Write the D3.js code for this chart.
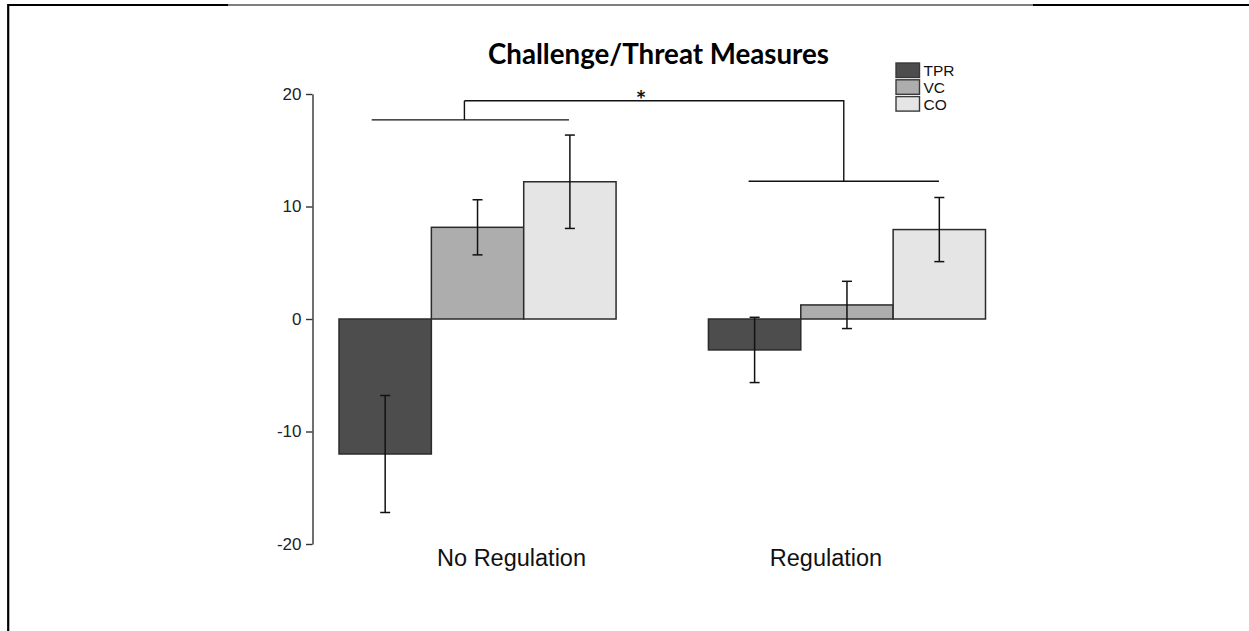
<!DOCTYPE html>
<html>
<head>
<meta charset="utf-8">
<script src="https://cdn.jsdelivr.net/npm/d3@7"></script>
<style>
  html, body { margin: 0; padding: 0; background: #fff; }
  svg { display: block; }
</style>
</head>
<body>
<svg id="chart" width="1249" height="631"></svg>
<script>
// Conditions on the x axis
const conditions = ["No Regulation", "Regulation"];
// Cardiovascular measures shown within each condition
const measures = ["TPR", "VC", "CO"];
// Mean change scores per measure, one value per condition
const tprMeans = [-12.0, -2.75];
const vcMeans  = [8.15, 1.25];
const coMeans  = [12.2, 7.95];
// Standard errors (error bar half-lengths)
const tprErrors = [5.2, 2.9];
const vcErrors  = [2.45, 2.1];
const coErrors  = [4.15, 2.85];
// Y axis ticks
const yTicks = [-20, -10, 0, 10, 20];
// Significance annotation: bracket heights over each condition and the joining bar
const bracketLevels = [17.7, 12.25];
const bracketTop = 19.4;
const sigLabel = "*";
const title = "Challenge/Threat Measures";

const fills = { TPR: "#4d4d4d", VC: "#adadad", CO: "#e5e5e5" };
const seriesMeans = { TPR: tprMeans, VC: vcMeans, CO: coMeans };
const seriesErrors = { TPR: tprErrors, VC: vcErrors, CO: coErrors };

const rows = [];
conditions.forEach((c, i) => {
  measures.forEach(m => {
    rows.push({ condition: c, measure: m, mean: seriesMeans[m][i], se: seriesErrors[m][i] });
  });
});

const svg = d3.select("#chart");

// Page frame: heavy rule top-left and top-right, thin rule between, heavy left edge
const frame = svg.append("g").attr("stroke", "#000");
frame.append("line").attr("x1", 8).attr("x2", 228).attr("y1", 5).attr("y2", 5).attr("stroke-width", 2.2);
frame.append("line").attr("x1", 228).attr("x2", 1033).attr("y1", 5).attr("y2", 5).attr("stroke-width", 1.2);
frame.append("line").attr("x1", 1033).attr("x2", 1249).attr("y1", 5).attr("y2", 5).attr("stroke-width", 2.2);
frame.append("line").attr("x1", 8.2).attr("x2", 8.2).attr("y1", 4).attr("y2", 631).attr("stroke-width", 2.2);

// Scales
const y = d3.scaleLinear().domain([-20, 20]).range([544, 94]);
const x0 = d3.scaleBand().domain(conditions).range([339, 985.5]).paddingInner(0.25).paddingOuter(0);
const x1 = d3.scaleBand().domain(measures).range([0, x0.bandwidth()]).padding(0);

// Y axis
const yAxis = d3.axisLeft(y).tickValues(yTicks).tickSize(6.5).tickSizeOuter(0).tickPadding(4.5)
  .tickFormat(d => String(d));
const gy = svg.append("g").attr("transform", "translate(312.5,0)").call(yAxis);
gy.attr("font-family", "Liberation Sans, Arial, sans-serif");
gy.select(".domain").attr("stroke", "#333").attr("stroke-width", 1.4);
gy.selectAll(".tick line").attr("stroke", "#333").attr("stroke-width", 1.4);
gy.selectAll(".tick text").attr("font-size", 17).attr("fill", "#222");

// Bars
const bars = svg.append("g");
bars.selectAll("rect").data(rows).join("rect")
  .attr("x", d => x0(d.condition) + x1(d.measure))
  .attr("width", x1.bandwidth())
  .attr("y", d => y(Math.max(0, d.mean)))
  .attr("height", d => Math.abs(y(d.mean) - y(0)))
  .attr("fill", d => fills[d.measure])
  .attr("stroke", "#2b2b2b")
  .attr("stroke-width", 1.5);

// Error bars
const capW = 10;
const eb = svg.append("g").attr("stroke", "#111").attr("stroke-width", 1.5);
rows.forEach(d => {
  const cx = x0(d.condition) + x1(d.measure) + x1.bandwidth() / 2;
  const yHi = y(d.mean + d.se), yLo = y(d.mean - d.se);
  eb.append("line").attr("x1", cx).attr("x2", cx).attr("y1", yHi).attr("y2", yLo);
  eb.append("line").attr("x1", cx - capW / 2).attr("x2", cx + capW / 2).attr("y1", yHi).attr("y2", yHi);
  eb.append("line").attr("x1", cx - capW / 2).attr("x2", cx + capW / 2).attr("y1", yLo).attr("y2", yLo);
});

// Category labels (shifted horizontally from each group's centre)
const labelShift = [34, -21];
svg.append("g").selectAll("text").data(conditions).join("text")
  .attr("x", (d, i) => x0(d) + x0.bandwidth() / 2 + labelShift[i])
  .attr("y", 565.5)
  .attr("text-anchor", "middle")
  .attr("font-family", "Liberation Sans, Arial, sans-serif")
  .attr("font-size", 23.5)
  .attr("fill", "#111")
  .text(d => d);

// Significance brackets
const bw = x0.bandwidth();
const spanInset = [[0.118, 0.17], [0.145, 0.168]];
const br = svg.append("g").attr("stroke", "#111").attr("stroke-width", 1.4).attr("fill", "none");
const spans = conditions.map((c, i) => {
  const a = x0(c) + spanInset[i][0] * bw, b = x0(c) + bw - spanInset[i][1] * bw;
  br.append("line").attr("x1", a).attr("x2", b).attr("y1", y(bracketLevels[i])).attr("y2", y(bracketLevels[i]));
  return [a, b];
});
const dropL = spans[0][0] + (spans[0][1] - spans[0][0]) * 0.47;
const dropR = (spans[1][0] + spans[1][1]) / 2;
br.append("path").attr("d",
  `M${dropL},${y(bracketTop)}V${y(bracketLevels[0])}M${dropL},${y(bracketTop)}H${dropR}V${y(bracketLevels[1])}`);
svg.append("text")
  .attr("x", (dropL + dropR) / 2 - 13)
  .attr("y", y(bracketTop) + 8)
  .attr("text-anchor", "middle")
  .attr("font-family", "Lato, sans-serif")
  .attr("font-weight", "bold")
  .attr("font-size", 25)
  .attr("fill", "#111")
  .text(sigLabel);

// Title
svg.append("text")
  .attr("x", 658.5).attr("y", 63.5)
  .attr("text-anchor", "middle")
  .attr("font-family", "Lato, sans-serif")
  .attr("font-weight", "bold")
  .attr("font-size", 27.7)
  .attr("fill", "#000")
  .text(title);

// Legend
const lg = svg.append("g").attr("transform", "translate(896,63)");
measures.forEach((m, i) => {
  const g = lg.append("g").attr("transform", `translate(0,${i * 16.8})`);
  g.append("rect").attr("width", 23.5).attr("height", 14.5)
    .attr("fill", fills[m]).attr("stroke", "#3a3a3a").attr("stroke-width", 1.4);
  g.append("text").attr("x", 27.5).attr("y", 13.2)
    .attr("font-family", "Liberation Sans, Arial, sans-serif")
    .attr("font-size", 15.5).attr("fill", "#111").text(m);
});
</script>
</body>
</html>
